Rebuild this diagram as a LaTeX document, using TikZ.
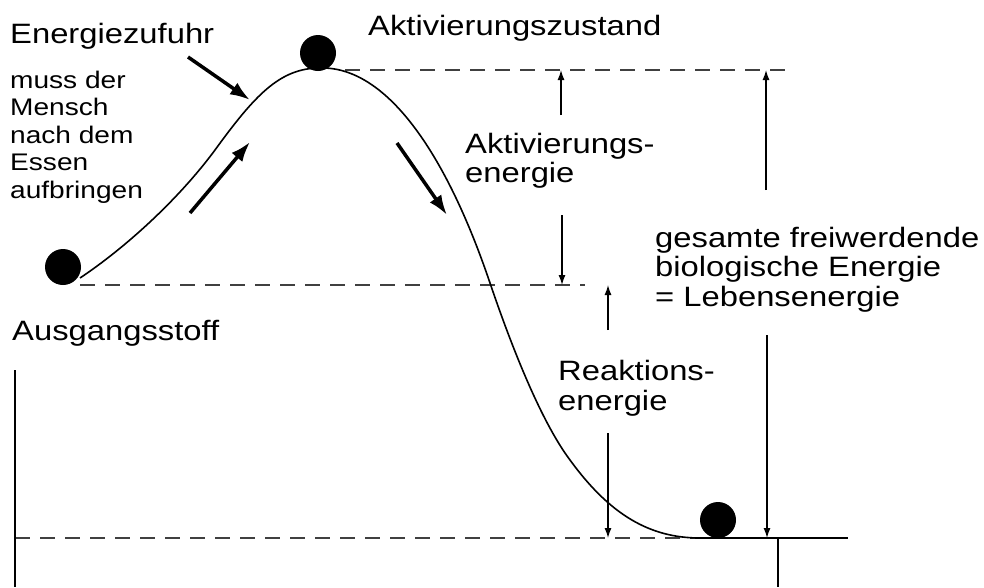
\documentclass[tikz,border=0pt]{standalone}
\usepackage{fontspec}
\setmainfont{Liberation Sans}[FakeStretch=1.17]
\usetikzlibrary{arrows.meta}
\begin{document}
\begin{tikzpicture}[x=1pt,y=-1pt,
  every node/.style={font=\fontsize{28}{30}\selectfont,inner sep=0pt},
  small/.style={font=\fontsize{24}{27.5}\selectfont},
  ball/.style={circle,fill=black,minimum size=36pt},
  level/.style={dash pattern=on 15pt off 10pt,line width=2.1pt,black!75},
  dimarrow/.style={-{Latex[length=10pt,width=7pt]},line width=1.3pt},
  push/.style={-{Latex[length=20pt,width=14pt]},line width=3.5pt}]
  \useasboundingbox (0,0) rectangle (984,587);

  % energy levels
  \draw[level] (345,70) -- (790,70);
  \draw[level] (80,285) -- (585,285);
  \draw[level] (15,538) -- (695,538);
  \draw[line width=1.3pt] (695,538) -- (848,538);
  \draw[line width=1.5pt] (15,370) -- (15,587);
  \draw[line width=1.3pt] (778,538) -- (778,587);

  % the hill
  \draw[line width=1.6pt] (80,278) .. controls (125,248) and (178,200) .. (215,150)
    .. controls (255,95) and (280,68) .. (320,68)
    .. controls (385,66) and (445,150) .. (490,283)
    .. controls (510,342) and (540,420) .. (570,460)
    .. controls (610,515) and (650,538) .. (700,538) -- (720,538);

  % balls
  \node[ball] (start) at (63,267) {};
  \node[ball] (peak) at (318,53) {};
  \node[ball] (end) at (718,520) {};

  % labels
  \node[anchor=base west] (zufuhr) at (10,43) {Energiezufuhr};
  \foreach \t [count=\i from 0] in {muss der,Mensch,nach dem,Essen,aufbringen}
    \node[small,anchor=base west] (mensch\i) at (10,88+27.5*\i) {\t};
  \node[anchor=base west] (zustand) at (368,35) {Aktivierungszustand};
  \node[anchor=base west] (akt1) at (465,153) {Aktivierungs-};
  \node[anchor=base west] (akt2) at (465,182) {energie};
  \node[anchor=base west] (ges1) at (655,247) {gesamte freiwerdende};
  \node[anchor=base west] (ges2) at (655,276) {biologische Energie};
  \node[anchor=base west] (ges3) at (655,306) {= Lebensenergie};
  \node[anchor=base west] (ausgang) at (12,340) {Ausgangsstoff};
  \node[anchor=base west] (reak1) at (558,380) {Reaktions-};
  \node[anchor=base west] (reak2) at (558,410) {energie};

  % bold arrows
  \coordinate (zA) at (188,57);  \coordinate (zB) at (250,100);
  \coordinate (upA) at (190,213); \coordinate (upB) at (250,142);
  \coordinate (dnA) at (397,143); \coordinate (dnB) at (447,215);
  \draw[push] (zA) -- (zB);
  \draw[push] (upA) -- (upB);
  \draw[push] (dnA) -- (dnB);

  % dimension arrows
  \coordinate (actA) at (561,115); \coordinate (actT) at (561,70);
  \coordinate (actB) at (562,215); \coordinate (actM) at (562,285);
  \coordinate (reA) at (608,330);  \coordinate (reM) at (608,285);
  \coordinate (reB) at (608,433);  \coordinate (reL) at (608,538);
  \coordinate (totA) at (766,190); \coordinate (totT) at (766,70);
  \coordinate (totB) at (767,335); \coordinate (totL) at (767,538);
  \draw[dimarrow] (actA) -- (actT);
  \draw[dimarrow] (actB) -- (actM);
  \draw[dimarrow] (reA) -- (reM);
  \draw[dimarrow] (reB) -- (reL);
  \draw[dimarrow] (totA) -- (totT);
  \draw[dimarrow] (totB) -- (totL);
\end{tikzpicture}
\end{document}
